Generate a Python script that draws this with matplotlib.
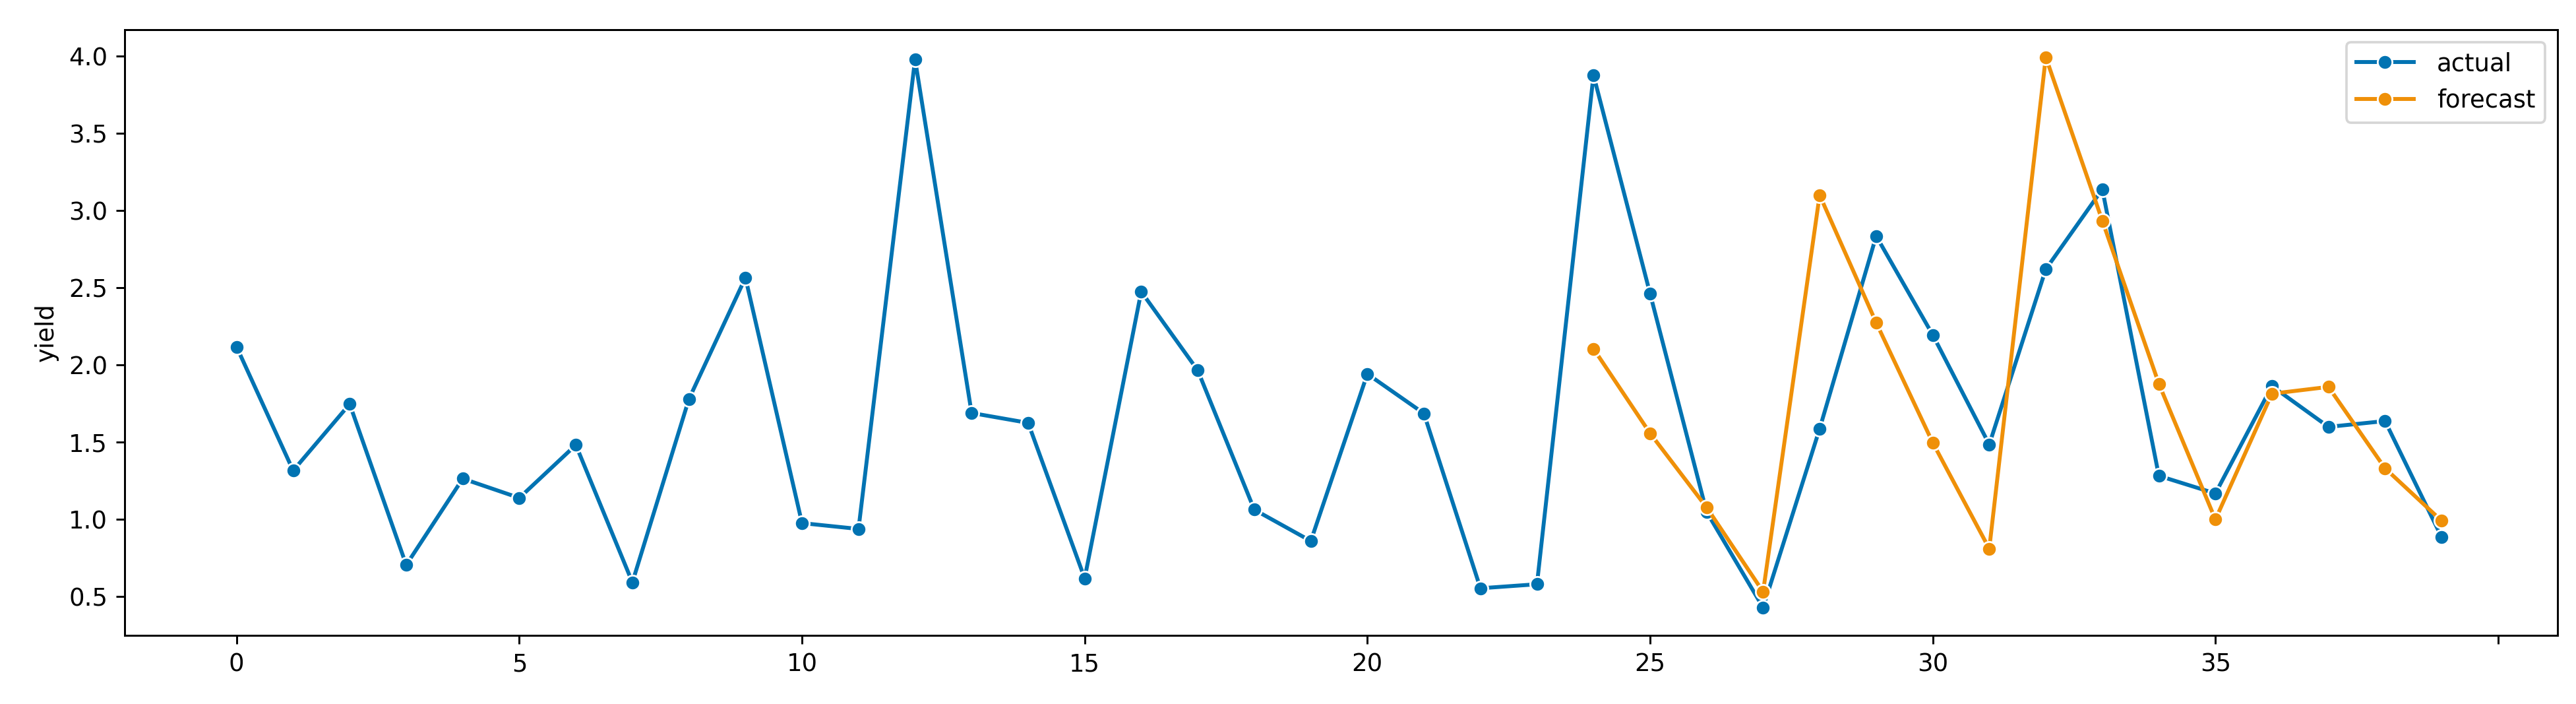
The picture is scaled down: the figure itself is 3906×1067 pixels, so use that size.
import matplotlib
matplotlib.use("Agg")
import matplotlib.pyplot as plt
from matplotlib.ticker import FuncFormatter

# actual series (index 0..39)
actual = [2.115, 1.314, 1.745, 0.703, 1.262, 1.137, 1.480, 0.590, 1.777, 2.563,
          0.974, 0.936, 3.977, 1.687, 1.623, 0.616, 2.473, 1.963, 1.061, 0.858,
          1.940, 1.684, 0.552, 0.578, 3.875, 2.461, 1.047, 0.427, 1.585, 2.833,
          2.193, 1.483, 2.618, 3.136, 1.280, 1.166, 1.861, 1.597, 1.635, 0.884]
actual_idx = list(range(len(actual)))

# forecast series (index 24..39)
forecast = [2.103, 1.556, 1.076, 0.529, 3.098, 2.272, 1.495, 0.808,
            3.991, 2.932, 1.876, 0.997, 1.812, 1.856, 1.329, 0.989]
forecast_idx = list(range(24, 24 + len(forecast)))

labels = ["actual", "forecast"]
colors = ["#0173b2", "#ef9008"]

dpi = 266.75
fig, ax = plt.subplots(figsize=(3906 / dpi, 1067 / dpi), dpi=dpi)
fig.subplots_adjust(left=0.0484, right=0.9928, top=0.9578, bottom=0.0975)

for x, y, lab, c in zip([actual_idx, forecast_idx], [actual, forecast], labels, colors):
    ax.plot(x, y, color=c, lw=1.6, marker="o", markersize=6,
            markeredgecolor="white", markeredgewidth=0.75, label=lab)

ax.set_ylabel("yield")
ax.set_xlim(-1.98, 41.05)
ax.set_ylim(0.247, 4.169)

# index labels only where there is data, like sktime's formatter
n = len(actual)
ax.xaxis.set_major_formatter(FuncFormatter(lambda v, p: str(int(v)) if 0 <= v < n else ""))

ax.legend(loc="upper right", handlelength=2.35, handletextpad=0.95)

fig.savefig("out.png", dpi=dpi)
